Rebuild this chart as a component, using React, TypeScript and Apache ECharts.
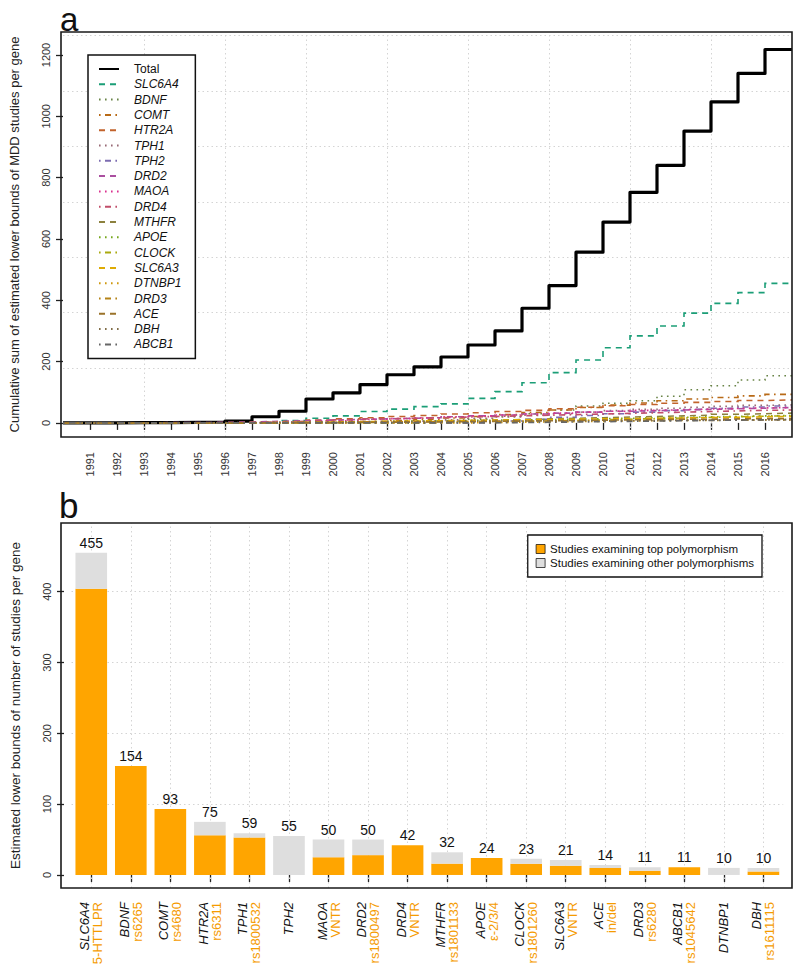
import React, { useEffect, useRef } from "react";
import * as echarts from "echarts";

const FONT = '"Liberation Sans", Arial, Helvetica, sans-serif';

// ---------- Panel a: cumulative step lines ----------
const years = [1990, 1991, 1992, 1993, 1994, 1995, 1996, 1997, 1998, 1999, 2000, 2001, 2002, 2003, 2004, 2005, 2006, 2007, 2008, 2009, 2010, 2011, 2012, 2013, 2014, 2015, 2016];
const yearTicks = [1991, 1992, 1993, 1994, 1995, 1996, 1997, 1998, 1999, 2000, 2001, 2002, 2003, 2004, 2005, 2006, 2007, 2008, 2009, 2010, 2011, 2012, 2013, 2014, 2015, 2016];
const cumTicks = [0, 200, 400, 600, 800, 1000, 1200];

const totalCum = [0, 0, 1, 1, 2, 3, 6, 20, 38, 78, 98, 125, 157, 183, 215, 254, 300, 374, 448, 557, 655, 752, 840, 952, 1047, 1140, 1218];
const slc6a4Cum = [0, 0, 0, 0, 0, 0, 1, 3, 8, 15, 23, 37, 45, 53, 62, 80, 102, 131, 164, 205, 245, 284, 316, 358, 390, 425, 455];
const bdnfCum = [0, 0, 0, 0, 0, 0, 0, 0, 0, 0, 0, 0, 0, 2, 6, 12, 20, 30, 42, 55, 64, 72, 87, 108, 121, 140, 154];
const comtCum = [0, 0, 0, 0, 0, 0, 0, 0, 0, 1, 3, 5, 8, 12, 16, 21, 27, 34, 42, 50, 58, 65, 72, 78, 83, 88, 93];
const htr2aCum = [0, 0, 0, 0, 0, 1, 2, 4, 6, 9, 13, 17, 21, 24, 29, 33, 37, 41, 46, 51, 56, 60, 64, 67, 70, 73, 75];
const tph1Cum = [0, 0, 0, 0, 0, 0, 0, 0, 0, 0, 0, 1, 3, 6, 10, 15, 20, 25, 30, 35, 40, 44, 48, 51, 54, 57, 59];
const tph2Cum = [0, 0, 0, 0, 0, 0, 0, 0, 0, 0, 0, 0, 0, 0, 0, 2, 6, 12, 18, 24, 30, 35, 40, 44, 48, 52, 55];
const drd2Cum = [0, 0, 0, 1, 1, 2, 3, 5, 7, 9, 11, 13, 15, 17, 20, 23, 26, 29, 32, 35, 38, 40, 42, 44, 46, 48, 50];
const maoaCum = [0, 0, 0, 0, 0, 0, 1, 2, 4, 6, 8, 11, 14, 17, 20, 23, 26, 29, 32, 35, 38, 41, 43, 45, 47, 49, 50];
const drd4Cum = [0, 0, 0, 0, 0, 0, 1, 3, 5, 7, 10, 13, 15, 17, 19, 21, 23, 25, 27, 29, 31, 33, 35, 37, 39, 41, 42];
const mthfrCum = [0, 0, 0, 0, 0, 0, 0, 0, 0, 0, 1, 2, 3, 5, 7, 9, 11, 13, 15, 17, 19, 21, 23, 25, 28, 30, 32];
const apoeCum = [0, 0, 0, 0, 0, 0, 0, 1, 2, 3, 4, 5, 6, 7, 8, 9, 10, 11, 12, 14, 15, 17, 18, 20, 21, 23, 24];
const clockCum = [0, 0, 0, 0, 0, 0, 0, 0, 0, 0, 0, 0, 0, 1, 2, 3, 4, 6, 8, 10, 12, 14, 16, 18, 20, 22, 23];
const slc6a3Cum = [0, 0, 0, 0, 0, 0, 0, 1, 2, 3, 4, 5, 6, 7, 8, 9, 10, 11, 12, 13, 14, 15, 16, 17, 18, 20, 21];
const dtnbp1Cum = [0, 0, 0, 0, 0, 0, 0, 0, 0, 0, 0, 0, 0, 0, 0, 1, 2, 3, 4, 5, 6, 7, 8, 8, 9, 10, 10];
const drd3Cum = [0, 0, 0, 0, 0, 0, 1, 1, 2, 2, 3, 3, 4, 4, 5, 5, 6, 6, 7, 7, 8, 8, 9, 9, 10, 10, 11];
const aceCum = [0, 0, 0, 0, 0, 0, 0, 0, 1, 1, 2, 2, 3, 3, 4, 5, 6, 7, 8, 9, 10, 11, 12, 12, 13, 14, 14];
const dbhCum = [0, 0, 0, 0, 0, 1, 1, 2, 2, 3, 3, 4, 4, 5, 5, 6, 6, 7, 7, 8, 8, 8, 9, 9, 9, 10, 10];
const abcb1Cum = [0, 0, 0, 0, 0, 0, 0, 0, 0, 0, 0, 0, 0, 0, 0, 0, 1, 2, 3, 4, 5, 6, 7, 8, 9, 10, 11];

const lineNames = ["Total", "SLC6A4", "BDNF", "COMT", "HTR2A", "TPH1", "TPH2", "DRD2", "MAOA", "DRD4", "MTHFR", "APOE", "CLOCK", "SLC6A3", "DTNBP1", "DRD3", "ACE", "DBH", "ABCB1"];
const lineValues = [totalCum, slc6a4Cum, bdnfCum, comtCum, htr2aCum, tph1Cum, tph2Cum, drd2Cum, maoaCum, drd4Cum, mthfrCum, apoeCum, clockCum, slc6a3Cum, dtnbp1Cum, drd3Cum, aceCum, dbhCum, abcb1Cum];
const lineColors = ["#000000", "#1B9E77", "#698447", "#B86A17", "#C2632C", "#986A75", "#7C6CB1", "#AB4FA0", "#DA318F", "#C14E6A", "#8C813E", "#75A71B", "#AAA90F", "#DEAB04", "#CF980C", "#B58317", "#9B732A", "#806D48", "#666666"];

// faint background grid of panel a (axis values)
const gridLevelsA = [179, 360, 540, 721, 901, 1082, 1263];
const gridYearsA = [1993, 1996, 1999, 2002, 2005, 2008, 2011, 2014];

// ---------- Panel b: stacked bars ----------
const genes = ["SLC6A4", "BDNF", "COMT", "HTR2A", "TPH1", "TPH2", "MAOA", "DRD2", "DRD4", "MTHFR", "APOE", "CLOCK", "SLC6A3", "ACE", "DRD3", "ABCB1", "DTNBP1", "DBH"];
const polymorphisms = ["5-HTTLPR", "rs6265", "rs4680", "rs6311", "rs1800532", "", "VNTR", "rs1800497", "VNTR", "rs1801133", "\u03b5-2/3/4", "rs1801260", "VNTR", "in/del", "rs6280", "rs1045642", "", "rs1611115"];
const totalStudies = [455, 154, 93, 75, 59, 55, 50, 50, 42, 32, 24, 23, 21, 14, 11, 11, 10, 10];
const topStudies = [404, 154, 93, 56, 53, 0, 25, 28, 42, 16, 24, 16, 13, 10, 6, 11, 0, 5];
const otherStudies = totalStudies.map((t, i) => t - topStudies[i]);
const countTicks = [0, 100, 200, 300, 400];

const DASH = [6, 5];
const DOT = [1.6, 4.4];
const DOTDASH = [1.6, 4.4, 6, 4.4];
const dashFor = (k: number) => (k === 0 ? "solid" : [DASH, DOT, DOTDASH][(k - 1) % 3]);

const GRID_COLOR = "#d4d4d4";
const plain = (v: number) => String(v);

function buildOption(): any {
  const lineSeries = lineNames.map((name, k) => {
    const vals = lineValues[k];
    const data = years.map((y, i) => [y, vals[i]]);
    data.push([2017, vals[vals.length - 1]]);
    return {
      type: "line",
      name,
      xAxisIndex: 0,
      yAxisIndex: 0,
      step: "end",
      symbol: "none",
      showSymbol: false,
      silent: true,
      emphasis: { disabled: true },
      data,
      itemStyle: { color: lineColors[k] },
      lineStyle: {
        color: lineColors[k],
        width: k === 0 ? 3.2 : 1.6,
        type: dashFor(k),
        cap: "butt",
        join: k === 0 ? "round" : "miter",
      },
      z: 2,
    };
  });

  const gridSeriesA = {
    type: "line",
    name: "_gridA",
    xAxisIndex: 0,
    yAxisIndex: 0,
    data: [],
    silent: true,
    markLine: {
      silent: true,
      symbol: "none",
      z: 1,
      label: { show: false },
      lineStyle: { color: GRID_COLOR, type: [1.5, 3], width: 1 },
      data: [
        ...gridLevelsA.map((v) => ({ yAxis: v })),
        ...gridYearsA.map((v) => ({ xAxis: v })),
      ],
    },
  };

  const gridSeriesB = {
    type: "line",
    name: "_gridB",
    xAxisIndex: 1,
    yAxisIndex: 1,
    data: [],
    silent: true,
    markLine: {
      silent: true,
      symbol: "none",
      z: 1,
      label: { show: false },
      lineStyle: { color: GRID_COLOR, type: [1.5, 3], width: 1 },
      data: [
        ...countTicks.slice(1).map((v) => ({ yAxis: v })),
        ...genes.map((g) => ({ xAxis: g })),
      ],
    },
  };

  const barTop = {
    type: "bar",
    name: "Studies examining top polymorphism",
    xAxisIndex: 1,
    yAxisIndex: 1,
    stack: "studies",
    barCategoryGap: "20%",
    silent: true,
    emphasis: { disabled: true },
    itemStyle: { color: "#FFA500" },
    data: topStudies,
    z: 3,
  };
  const barOther = {
    type: "bar",
    name: "Studies examining other polymorphisms",
    xAxisIndex: 1,
    yAxisIndex: 1,
    stack: "studies",
    barCategoryGap: "20%",
    silent: true,
    emphasis: { disabled: true },
    itemStyle: { color: "#DEDEDE" },
    data: otherStudies,
    label: {
      show: true,
      position: "top",
      distance: 3,
      fontSize: 14,
      fontFamily: FONT,
      color: "#111",
      formatter: (p: any) => String(totalStudies[p.dataIndex]),
    },
    z: 3,
  };

  return {
    animation: false,
    backgroundColor: "#ffffff",
    textStyle: { fontFamily: FONT },
    grid: [
      { left: 61, top: 32, width: 731, height: 405 },
      { left: 68.5, top: 523, width: 714.7, height: 365 },
    ],
    xAxis: [
      {
        type: "value",
        gridIndex: 0,
        min: 1990,
        max: 2017,
        axisLine: { show: false },
        axisTick: { show: true, length: 7, customValues: yearTicks, lineStyle: { color: "#222", width: 1.3 } },
        axisLabel: { customValues: yearTicks, formatter: plain, rotate: 90, fontSize: 11, color: "#333", margin: 15, fontFamily: FONT },
        splitLine: { show: false },
      },
      {
        type: "category",
        gridIndex: 1,
        data: genes,
        axisLine: { show: false },
        axisTick: { show: true, alignWithLabel: true, length: 7, lineStyle: { color: "#222", width: 1.3 } },
        axisLabel: {
          interval: 0,
          rotate: 90,
          margin: 14,
          fontFamily: FONT,
          formatter: (value: string, idx: number) => {
            const p = polymorphisms[idx];
            return p ? `{g|${value}}\n{p|${p}}` : `{g|${value}}`;
          },
          rich: {
            g: { fontStyle: "italic", color: "#111", fontSize: 13, lineHeight: 13, fontFamily: FONT },
            p: { color: "#F59B00", fontSize: 13, lineHeight: 13, fontFamily: FONT },
          },
        },
        splitLine: { show: false },
      },
    ],
    yAxis: [
      {
        type: "value",
        gridIndex: 0,
        min: -46,
        max: 1275,
        name: "Cumulative sum of estimated lower bounds of MDD studies per gene",
        nameLocation: "middle",
        nameGap: 42,
        nameTextStyle: { fontSize: 13, color: "#222", fontFamily: FONT },
        axisLine: { show: false },
        axisTick: { show: true, length: 7, customValues: cumTicks, lineStyle: { color: "#222", width: 1.3 } },
        axisLabel: { customValues: cumTicks, formatter: plain, rotate: 90, fontSize: 11, color: "#333", margin: 12, fontFamily: FONT },
        splitLine: { show: false },
      },
      {
        type: "value",
        gridIndex: 1,
        min: -18.4,
        max: 497,
        offset: 7.5,
        name: "Estimated lower bounds of number of studies per gene",
        nameLocation: "middle",
        nameGap: 42,
        nameTextStyle: { fontSize: 13.5, color: "#222", fontFamily: FONT },
        axisLine: { show: false },
        axisTick: { show: true, length: 7, customValues: countTicks, lineStyle: { color: "#222", width: 1.3 } },
        axisLabel: { customValues: countTicks, formatter: plain, rotate: 90, fontSize: 11, color: "#333", margin: 12, fontFamily: FONT },
        splitLine: { show: false },
      },
    ],
    legend: [
      {
        orient: "vertical",
        left: 88,
        top: 55,
        data: lineNames,
        itemWidth: 20,
        itemHeight: 12,
        itemGap: 3.3,
        padding: [8, 14, 8, 10],
        borderColor: "#111",
        borderWidth: 1.5,
        borderRadius: 0,
        backgroundColor: "#ffffff",
        selectedMode: false,
        itemStyle: { opacity: 0 },
        formatter: (name: string) => (name === "Total" ? `{n|${name}}` : `{i|${name}}`),
        textStyle: {
          fontSize: 12,
          color: "#111",
          fontFamily: FONT,
          padding: [0, 0, 0, 10],
          rich: {
            n: { fontSize: 12, lineHeight: 12, color: "#111", fontFamily: FONT },
            i: { fontSize: 12, lineHeight: 12, color: "#111", fontStyle: "italic", fontFamily: FONT },
          },
        },
      },
      {
        orient: "vertical",
        right: 38,
        top: 535,
        data: ["Studies examining top polymorphism", "Studies examining other polymorphisms"],
        icon: "rect",
        itemWidth: 9,
        itemHeight: 9,
        itemGap: 2,
        padding: [8, 8, 8, 8],
        borderColor: "#111",
        borderWidth: 1.3,
        borderRadius: 0,
        backgroundColor: "#ffffff",
        selectedMode: false,
        itemStyle: { borderColor: "#000", borderWidth: 0.7 },
        textStyle: { fontSize: 11.5, lineHeight: 11.5, color: "#111", fontFamily: FONT },
      },
    ],
    graphic: [
      {
        type: "rect",
        silent: true,
        z: 100,
        shape: { x: 61, y: 32, width: 731, height: 405 },
        style: { fill: "none", stroke: "#1a1a1a", lineWidth: 1.6 },
      },
      {
        type: "rect",
        silent: true,
        z: 100,
        shape: { x: 61, y: 523, width: 731, height: 365 },
        style: { fill: "none", stroke: "#1a1a1a", lineWidth: 1.6 },
      },
      {
        type: "text",
        silent: true,
        x: 60,
        y: 19,
        style: { text: "a", fontSize: 33, fontFamily: FONT, fill: "#111", align: "left", verticalAlign: "middle" },
      },
      {
        type: "text",
        silent: true,
        x: 59,
        y: 505,
        style: { text: "b", fontSize: 35, fontFamily: FONT, fill: "#111", align: "left", verticalAlign: "middle" },
      },
    ],
    series: [gridSeriesA, ...lineSeries, gridSeriesB, barTop, barOther],
  };
}

export default function App() {
  const ref = useRef<HTMLDivElement>(null);
  useEffect(() => {
    document.body.style.margin = "0";
    const chart = echarts.init(ref.current as HTMLDivElement, null, { renderer: "svg", width: 800, height: 979 });
    chart.setOption(buildOption());
    return () => {
      chart.dispose();
    };
  }, []);
  return <div ref={ref} style={{ width: 800, height: 979, position: "absolute", left: 0, top: 0 }} />;
}
